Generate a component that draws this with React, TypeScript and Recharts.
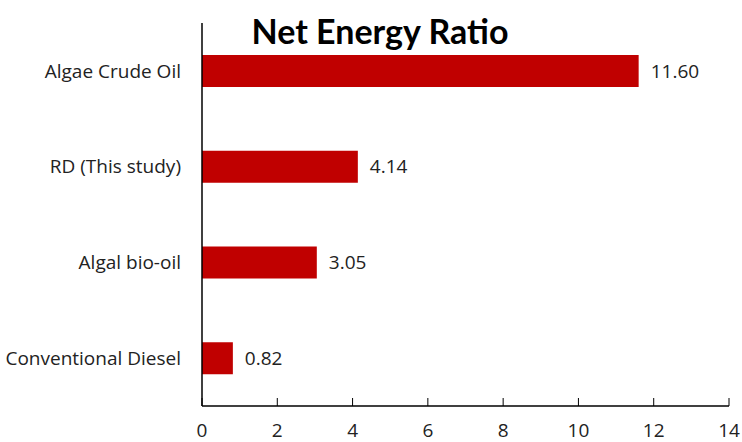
import { BarChart, Bar, XAxis, YAxis, LabelList } from 'recharts'

const categories = ['Algae Crude Oil', 'RD (This study)', 'Algal bio-oil', 'Conventional Diesel']
const ratios = [11.6, 4.14, 3.05, 0.82]
const xTicks = [0, 2, 4, 6, 8, 10, 12, 14]

const data = categories.map((name, i) => ({ name, ratio: ratios[i] }))

const font = '"Open Sans", Lato, sans-serif'

function XTick(props: any) {
  const { x, y, payload } = props
  return (
    <g>
      <line x1={x} x2={x} y1={y - 8} y2={y} stroke="#000" strokeWidth={1} />
      <text x={x} y={y + 31} textAnchor="middle" fontSize={19} fill="#222" fontFamily={font}>
        {payload.value}
      </text>
    </g>
  )
}

export default function App() {
  return (
    <div style={{ position: 'absolute', left: 0, top: 0, width: 742, height: 442, background: '#fff' }}>
      <BarChart
        width={742}
        height={442}
        data={data}
        layout="vertical"
        margin={{ top: 23, right: 13, bottom: 0, left: 0 }}
      >
        <XAxis
          type="number"
          domain={[0, 14]}
          ticks={xTicks}
          height={36}
          tickSize={0}
          tickMargin={0}
          tickLine={false}
          axisLine={{ stroke: '#000', strokeWidth: 1.5 }}
          tick={<XTick />}
        />
        <YAxis
          type="category"
          dataKey="name"
          width={202}
          tickLine={false}
          tickMargin={15}
          axisLine={{ stroke: '#000', strokeWidth: 1.5 }}
          tick={{ fontSize: 19, fill: '#222', fontFamily: font }}
        />
        <Bar dataKey="ratio" fill="#C00000" barSize={32} isAnimationActive={false}>
          <LabelList
            dataKey="ratio"
            position="right"
            offset={12}
            formatter={(v: any) => Number(v).toFixed(2)}
            style={{ fontSize: 19, fill: '#222', fontFamily: font }}
          />
        </Bar>
      </BarChart>
      <div
        style={{
          position: 'absolute',
          left: 230,
          top: 11,
          width: 300,
          textAlign: 'center',
          fontFamily: 'Lato, sans-serif',
          fontWeight: 'bold',
          fontSize: 34,
          color: '#000',
          lineHeight: '40px',
        }}
      >
        Net Energy Ratio
      </div>
    </div>
  )
}
